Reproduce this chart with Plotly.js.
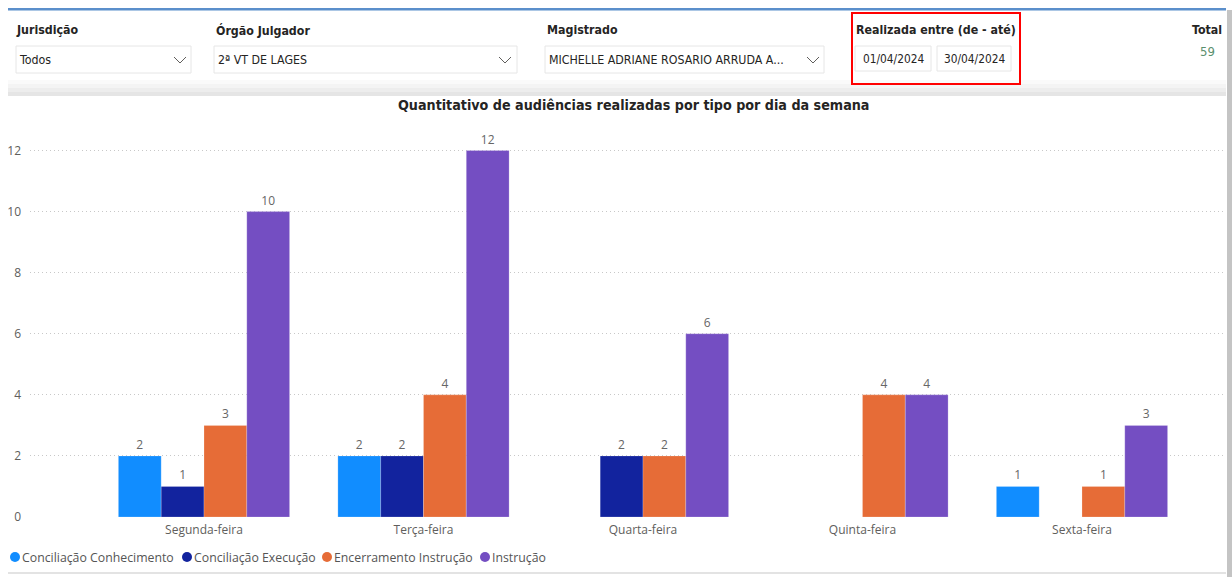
<!DOCTYPE html>
<html><head><meta charset="utf-8">
<script src="https://cdn.plot.ly/plotly-3.0.1.min.js"></script>
<style>html,body{margin:0;padding:0;background:#fff}#chart{width:1232px;height:577px}</style>
</head><body><div id="chart"></div>
<script>
// ---- data ----
const days = ["Segunda-feira", "Terça-feira", "Quarta-feira", "Quinta-feira", "Sexta-feira"];
const seriesNames = ["Conciliação Conhecimento", "Conciliação Execução", "Encerramento Instrução", "Instrução"];
const conciliacaoConhecimento = [2, 2, null, null, 1];
const conciliacaoExecucao = [1, 2, 2, null, null];
const encerramentoInstrucao = [3, 4, 2, 4, 1];
const instrucao = [10, 12, 6, 4, 3];
const yTicks = [0, 2, 4, 6, 8, 10, 12];
const chartTitle = "Quantitativo de audiências realizadas por tipo por dia da semana";
const filterLabels = ["Jurisdição", "Órgão Julgador", "Magistrado", "Realizada entre (de - até)"];
const filterValues = ["Todos", "2ª VT DE LAGES", "MICHELLE ADRIANE ROSARIO ARRUDA A..."];
const dateFrom = "01/04/2024", dateTo = "30/04/2024";
const totalLabel = "Total", totalValue = "59";

// ---- style / geometry ----
const colors = ["#118DFF", "#12239E", "#E66C37", "#744EC2"];
const W = 1232, H = 577, ML = 30, MR = 8, MT = 120, MB = 60;
const PW = W - ML - MR, PH = H - MT - MB;
const px = x => (x - ML) / PW;
const py = y => (H - MB - y) / PH;
const UI = "Segoe UI, 'Open Sans', 'Noto Sans', sans-serif";
const HEAD = "'DejaVu Sans Condensed', 'Liberation Sans Narrow', Roboto, sans-serif";
const legendCircleX = [15, 187, 327, 485];

const values = [conciliacaoConhecimento, conciliacaoExecucao, encerramentoInstrucao, instrucao];
const traces = values.map((v, i) => ({
  type: "bar", x: days, y: v, name: seriesNames[i],
  marker: {color: colors[i], line: {color: "rgba(255,255,255,0.35)", width: 0.6}},
  text: v.map(d => d == null ? "" : String(d)), textposition: "outside",
  textfont: {family: UI, size: 12, color: "#666666"}, cliponaxis: false,
  showlegend: false, hoverinfo: "skip"
}));

function rect(x0, y0, x1, y1, fill, line, lw) {
  return {type: "rect", xref: "paper", yref: "paper", x0: px(x0), x1: px(x1), y0: py(y0), y1: py(y1),
    fillcolor: fill || "rgba(0,0,0,0)", line: {color: line || "rgba(0,0,0,0)", width: lw || 0}, layer: "above"};
}
function circle(cx, cy, r, fill) {
  return {type: "circle", xref: "paper", yref: "paper", x0: px(cx - r), x1: px(cx + r), y0: py(cy - r), y1: py(cy + r),
    fillcolor: fill, line: {width: 0}, layer: "above"};
}
function chevron(cx, cy) {
  const p = `M ${px(cx - 6)} ${py(cy - 3)} L ${px(cx)} ${py(cy + 3)} L ${px(cx + 6)} ${py(cy - 3)}`;
  return {type: "path", xref: "paper", yref: "paper", path: p, line: {color: "#605E5C", width: 1}, layer: "above"};
}
function txt(x, y, t, size, color, fam, anchor, bold) {
  return {xref: "paper", yref: "paper", x: px(x), y: py(y), text: bold ? "<b>" + t + "</b>" : t, showarrow: false,
    xanchor: anchor || "left", yanchor: "middle", borderpad: 0, font: {family: fam || UI, size: size, color: color || "#252423"}};
}

const shapes = [
  rect(8, 80, 1226, 84, "#FAFAFA"), rect(8, 84, 1226, 88, "#F4F4F4"),
  rect(8, 88, 1226, 92, "#EDEDED"), rect(8, 92, 1226, 96, "#E5E5E5"),
  rect(8, 8, 1226, 10.5, "#5B8FCB"),
  rect(1227, 10, 1232, 577, "#C4C4C4"),
  rect(8, 572, 1226, 574, "#E3E3E3"),
  rect(16, 46, 191, 73, "#FFFFFF", "#E6E6E6", 1),
  rect(214, 46, 517, 73, "#FFFFFF", "#E6E6E6", 1),
  rect(545, 46, 824, 73, "#FFFFFF", "#E6E6E6", 1),
  rect(855, 46, 931, 71, "#FFFFFF", "#E6E6E6", 1),
  rect(937, 46, 1011, 71, "#FFFFFF", "#E6E6E6", 1),
  chevron(180, 60), chevron(505, 60), chevron(813, 60),
  rect(852, 13, 1020, 84, "rgba(0,0,0,0)", "#FF0000", 2)
];
seriesNames.forEach((n, i) => shapes.push(circle(legendCircleX[i], 557, 5, colors[i])));

const annotations = [
  txt(15, 30, filterLabels[0], 12.3, "#252423", HEAD, "left", true),
  txt(215, 30, filterLabels[1], 12.3, "#252423", HEAD, "left", true),
  txt(546, 30, filterLabels[2], 12.3, "#252423", HEAD, "left", true),
  txt(855, 30, filterLabels[3], 12.3, "#252423", HEAD, "left", true),
  txt(18, 60, filterValues[0], 12.3, "#252423", HEAD),
  txt(217, 60, filterValues[1], 12.3, "#252423", HEAD),
  txt(548, 60, filterValues[2], 12.3, "#252423", HEAD),
  txt(893, 59, dateFrom, 11.8, "#252423", HEAD, "center"),
  txt(974, 59, dateTo, 11.8, "#252423", HEAD, "center"),
  txt(1223, 30, totalLabel, 12.3, "#252423", HEAD, "right", true),
  txt(1207, 51, totalValue, 13, "#5A8F6E", HEAD, "center"),
  txt(633, 105, chartTitle, 14.2, "#252423", HEAD, "center", true)
];
seriesNames.forEach((n, i) => annotations.push(txt(legendCircleX[i] + 6, 557, n, 12.3, "#555555", UI)));

const layout = {
  width: W, height: H, margin: {l: ML, r: MR, t: MT, b: MB},
  paper_bgcolor: "#FFFFFF", plot_bgcolor: "#FFFFFF",
  barmode: "group", bargap: 0.22, bargroupgap: 0,
  xaxis: {type: "category", range: [-0.7927, 4.647], showgrid: false, zeroline: false, showline: false,
    ticks: "", ticklabelstandoff: 4, tickfont: {family: UI, size: 12, color: "#605E5C"}, fixedrange: true},
  yaxis: {range: [0, 13], tickvals: yTicks, showgrid: true, gridcolor: "#C8C8C8", griddash: "1px,3px", gridwidth: 1,
    zeroline: false, showline: false, ticks: "", ticklabelstandoff: 8,
    tickfont: {family: UI, size: 12, color: "#605E5C"}, fixedrange: true},
  showlegend: false,
  shapes: shapes, annotations: annotations
};
Plotly.newPlot("chart", traces, layout, {staticPlot: true, displayModeBar: false});
</script></body></html>
